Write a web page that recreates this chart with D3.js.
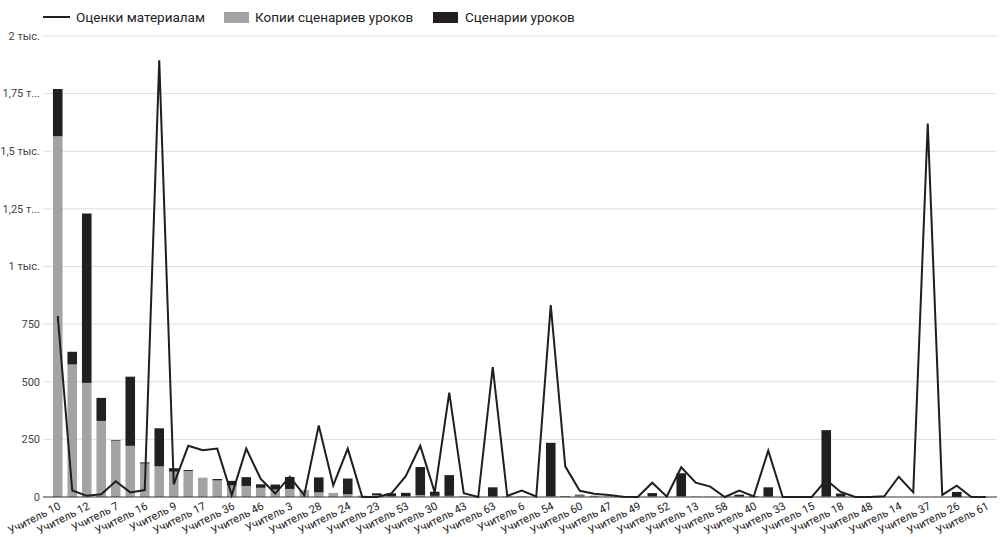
<!DOCTYPE html>
<html>
<head>
<meta charset="utf-8">
<script src="https://cdn.jsdelivr.net/npm/d3@7"></script>
<style>
  html, body { margin: 0; padding: 0; background: #fff; }
  svg { display: block; font-family: Roboto, "Noto Sans", sans-serif; }
</style>
</head>
<body>
<svg id="chart" width="1001" height="537"></svg>
<script>
// Teachers, in the order the chart lists them
const teachers = [
  "Учитель 10","Учитель 1","Учитель 12","Учитель 2","Учитель 7","Учитель 4",
  "Учитель 16","Учитель 5","Учитель 9","Учитель 8","Учитель 17","Учитель 11",
  "Учитель 36","Учитель 19","Учитель 46","Учитель 20","Учитель 3","Учитель 21",
  "Учитель 28","Учитель 22","Учитель 24","Учитель 25","Учитель 23","Учитель 27",
  "Учитель 53","Учитель 29","Учитель 30","Учитель 31","Учитель 43","Учитель 32",
  "Учитель 63","Учитель 34","Учитель 6","Учитель 35","Учитель 54","Учитель 38",
  "Учитель 60","Учитель 39","Учитель 47","Учитель 41","Учитель 49","Учитель 42",
  "Учитель 52","Учитель 44","Учитель 13","Учитель 45","Учитель 58","Учитель 50",
  "Учитель 40","Учитель 51","Учитель 33","Учитель 55","Учитель 15","Учитель 56",
  "Учитель 18","Учитель 57","Учитель 48","Учитель 59","Учитель 14","Учитель 62",
  "Учитель 37","Учитель 64","Учитель 26","Учитель 65","Учитель 61"
];

// Копии сценариев уроков (grey, bottom of the stack)
const lessonCopies = [
  1565, 575, 495, 330, 243, 222, 145, 133, 110, 113, 84, 72,
  50, 48, 40, 32, 35, 30, 20, 18, 12, 6, 8, 4,
  4, 8, 5, 5, 3, 0, 2, 3, 3, 0, 3, 2,
  6, 3, 2, 0, 0, 3, 0, 3, 2, 2, 2, 2,
  2, 2, 0, 0, 0, 2, 2, 0, 0, 0, 0, 0,
  0, 0, 0, 0, 0
];

// Сценарии уроков (dark, top of the stack)
const lessonScripts = [
  205, 55, 735, 100, 3, 300, 5, 165, 15, 4, 0, 6,
  20, 38, 15, 22, 52, 0, 65, 0, 68, 0, 8, 12,
  14, 122, 18, 90, 0, 0, 40, 0, 0, 0, 232, 2,
  4, 2, 0, 0, 0, 14, 0, 100, 0, 0, 0, 8,
  2, 40, 0, 0, 0, 288, 13, 0, 0, 0, 0, 0,
  0, 0, 22, 0, 0
];

// Оценки материалам (line)
const materialRatings = [
  785, 28, 5, 12, 68, 20, 30, 1895, 55, 222, 203, 210,
  8, 210, 78, 15, 88, 8, 310, 50, 210, 0, 0, 15,
  90, 222, 20, 453, 16, 0, 563, 5, 28, 2, 833, 133,
  27, 14, 9, 1, 0, 62, 2, 129, 62, 45, 0, 28,
  3, 201, 0, 0, 0, 74, 22, 0, 0, 3, 88, 20,
  1620, 9, 49, 0, 0
];

const yTicks = [0, 250, 500, 750, 1000, 1250, 1500, 1750, 2000];
const yTickLabels = ["0", "250", "500", "750", "1 тыс.", "1,25 т...", "1,5 тыс.", "1,75 т...", "2 тыс."];

const seriesNames = ["Оценки материалам", "Копии сценариев уроков", "Сценарии уроков"];
const colors = { line: "#1f1f1f", copies: "#a3a3a5", scripts: "#231f20" };

const svg = d3.select("#chart");
const plot = { left: 43, right: 997, top: 36, bottom: 497 };

const x = d3.scaleBand()
  .domain(teachers)
  .range([50.5, 993])
  .paddingInner(0.34)
  .paddingOuter(0.17);

const y = d3.scaleLinear()
  .domain([0, 2000])
  .range([plot.bottom, plot.top]);

// horizontal grid
svg.append("g")
  .selectAll("line")
  .data(yTicks.slice(1))
  .join("line")
  .attr("x1", plot.left).attr("x2", plot.right)
  .attr("y1", d => y(d)).attr("y2", d => y(d))
  .attr("stroke", "#dedede").attr("stroke-width", 1);

// y-axis labels
svg.append("g")
  .selectAll("text")
  .data(yTicks)
  .join("text")
  .attr("x", 40)
  .attr("y", d => y(d))
  .attr("dy", "0.35em")
  .attr("text-anchor", "end")
  .attr("font-size", 11)
  .attr("fill", "#444")
  .text((d, i) => yTickLabels[i]);

// stacked bars
const rows = teachers.map((t, i) => ({ t, copies: lessonCopies[i], scripts: lessonScripts[i] }));
const stack = d3.stack().keys(["copies", "scripts"])(rows);

svg.append("g")
  .selectAll("g")
  .data(stack)
  .join("g")
  .attr("fill", d => colors[d.key])
  .selectAll("rect")
  .data(d => d)
  .join("rect")
  .attr("x", d => x(d.data.t))
  .attr("width", x.bandwidth())
  .attr("y", d => y(d[1]))
  .attr("height", d => Math.max(0, y(d[0]) - y(d[1])));

// baseline
svg.append("line")
  .attr("x1", plot.left).attr("x2", plot.right)
  .attr("y1", y(0)).attr("y2", y(0))
  .attr("stroke", "#333").attr("stroke-width", 1);

// line series
const line = d3.line()
  .x((d, i) => x(teachers[i]) + x.bandwidth() / 2)
  .y(d => y(d));

svg.append("path")
  .datum(materialRatings)
  .attr("fill", "none")
  .attr("stroke", colors.line)
  .attr("stroke-width", 2)
  .attr("stroke-linejoin", "miter")
  .attr("d", line);

// x-axis labels (every other category)
svg.append("g")
  .selectAll("text")
  .data(teachers.filter((d, i) => i % 2 === 0))
  .join("text")
  .attr("transform", d => `translate(${x(d) + x.bandwidth() / 2 + 2},${plot.bottom + 8}) rotate(-27)`)
  .attr("text-anchor", "end")
  .attr("dy", "0.35em")
  .attr("font-size", 11)
  .attr("fill", "#222")
  .text(d => d);

// legend
const legend = svg.append("g").attr("font-size", 13.5).attr("fill", "#222");
legend.append("line")
  .attr("x1", 43).attr("x2", 70).attr("y1", 17).attr("y2", 17)
  .attr("stroke", colors.line).attr("stroke-width", 2);
legend.append("text").attr("x", 76).attr("y", 17).attr("dy", "0.35em").text(seriesNames[0]);
legend.append("rect").attr("x", 224).attr("y", 12).attr("width", 25).attr("height", 11).attr("fill", colors.copies);
legend.append("text").attr("x", 255).attr("y", 17).attr("dy", "0.35em").text(seriesNames[1]);
legend.append("rect").attr("x", 433).attr("y", 12).attr("width", 25).attr("height", 11).attr("fill", colors.scripts);
legend.append("text").attr("x", 465).attr("y", 17).attr("dy", "0.35em").text(seriesNames[2]);
</script>
</body>
</html>
